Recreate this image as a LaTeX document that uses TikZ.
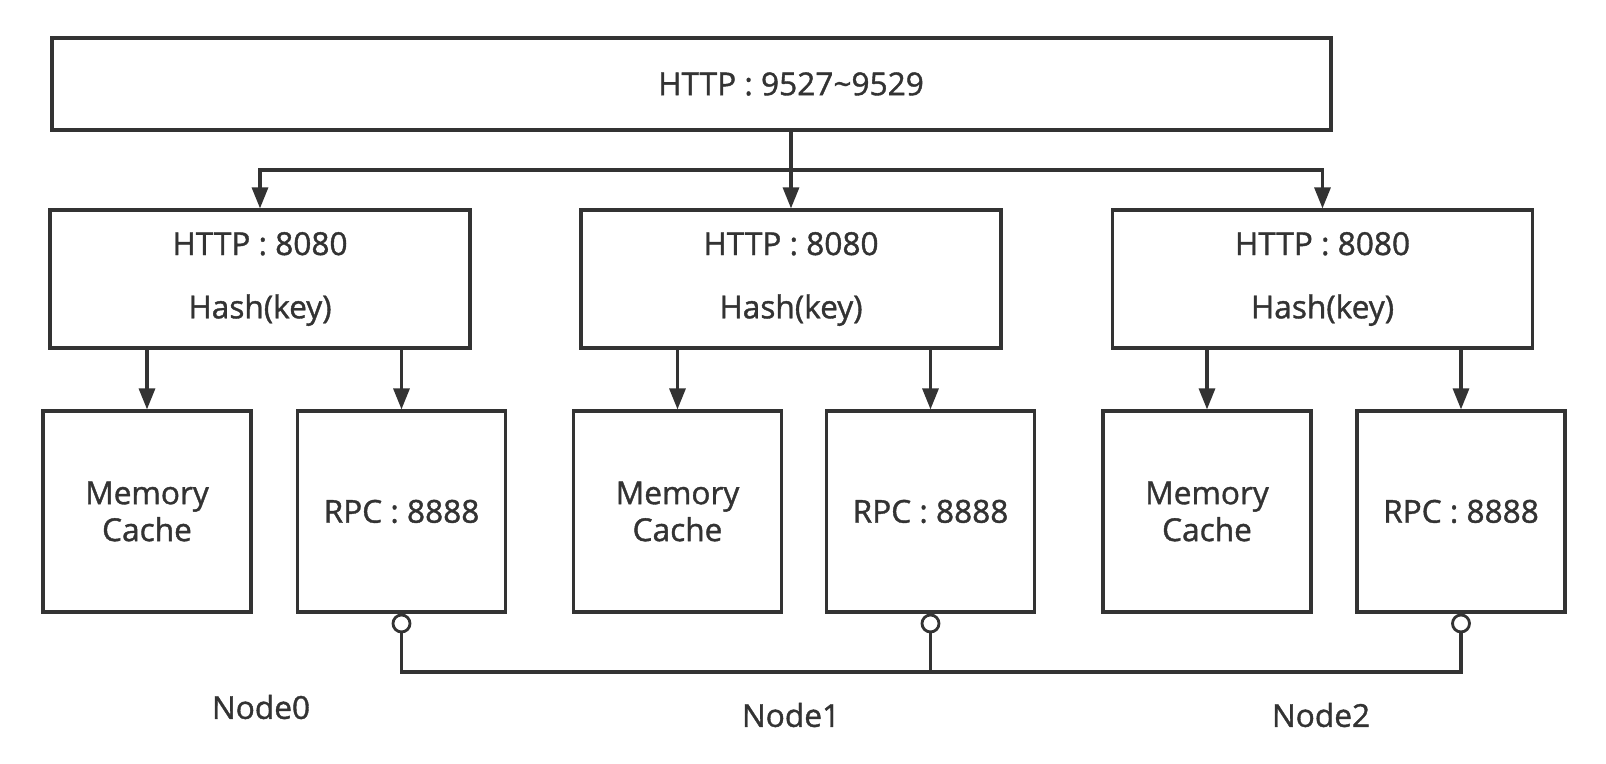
\documentclass[tikz,border=0pt]{standalone}
\usepackage{fontspec}
\setmainfont{Open Sans}
\newfontfamily\boxfont{Open Sans}[FakeBold=1.2]
\usepackage{xcolor}
\usepackage{tikz}
\usetikzlibrary{positioning,arrows.meta,calc}
\definecolor{ink}{HTML}{333333}

\begin{document}
\begin{tikzpicture}[
  x=1cm, y=1cm,
  box/.style   ={draw=ink, line width=1.8pt, align=center, text=ink,
                 font=\boxfont\fontsize{18}{21}\selectfont, inner sep=0pt},
  wide/.style  ={box, minimum width=25.58cm, minimum height=1.84cm},
  server/.style={box, minimum width=8.4cm, minimum height=2.76cm},
  store/.style ={box, minimum width=4.16cm, minimum height=4.02cm},
  port/.style  ={circle, draw=ink, fill=white, line width=1.6pt,
                 minimum size=0.34cm, inner sep=0pt},
  e/.style     ={-{Triangle[length=4.2mm, width=3.2mm]}, draw=ink, line width=1.8pt},
  bus/.style   ={draw=ink, line width=1.8pt},
  clab/.style  ={font=\boxfont\fontsize{18}{21}\selectfont, text=ink, inner sep=0pt},
]
\useasboundingbox (0,0) rectangle (32.12,15.28);
% ---------------- front door ----------------
\node[wide] (front)     at (13.83,13.6) {};
\node[clab] (fronttext) at (15.82,13.6) {HTTP : 9527\textasciitilde 9529};
% ---------------- HTTP servers ----------------
\node[server] (http0) at (5.2,9.7)   {HTTP : 8080\\[15pt]Hash(key)};
\node[server] (http1) at (15.82,9.7) {HTTP : 8080\\[15pt]Hash(key)};
\node[server] (http2) at (26.45,9.7) {HTTP : 8080\\[15pt]Hash(key)};
% ---------------- cache + rpc per node ----------------
\node[store] (mem0) at (2.94,5.05)  {Memory\\Cache};
\node[store] (rpc0) at (8.03,5.05)  {RPC : 8888};
\node[store] (mem1) at (13.55,5.05) {Memory\\Cache};
\node[store] (rpc1) at (18.61,5.05) {RPC : 8888};
\node[store] (mem2) at (24.14,5.05) {Memory\\Cache};
\node[store] (rpc2) at (29.22,5.05) {RPC : 8888};
% ---------------- rpc ports ----------------
\node[port, below=0pt of rpc0] (pt0) {};
\node[port, below=0pt of rpc1] (pt1) {};
\node[port, below=0pt of rpc2] (pt2) {};
% ---------------- node names ----------------
\node[clab] (name0) at (5.22,1.14)  {Node0};
\node[clab] (name1) at (15.82,0.98) {Node1};
\node[clab] (name2) at (26.42,0.98) {Node2};

% ---------------- fan-out from front ----------------
\coordinate (split) at (0,11.88);
\draw[e] (http1.north |- front.south) -- (http1.north);
\draw[e] (http1.north |- split) -| (http0.north);
\draw[e] (http1.north |- split) -| (http2.north);
% ---------------- server to cache / rpc ----------------
\draw[e] (mem0.north |- http0.south) -- (mem0.north);
\draw[e] (rpc0.north |- http0.south) -- (rpc0.north);
\draw[e] (mem1.north |- http1.south) -- (mem1.north);
\draw[e] (rpc1.north |- http1.south) -- (rpc1.north);
\draw[e] (mem2.north |- http2.south) -- (mem2.north);
\draw[e] (rpc2.north |- http2.south) -- (rpc2.north);
% ---------------- rpc bus ----------------
\coordinate (busline) at (0,1.84);
\draw[bus] (pt0.south) -- (pt0.south |- busline) -- (pt2.south |- busline) -- (pt2.south);
\draw[bus] (pt1.south) -- (pt1.south |- busline);
\end{tikzpicture}
\end{document}
